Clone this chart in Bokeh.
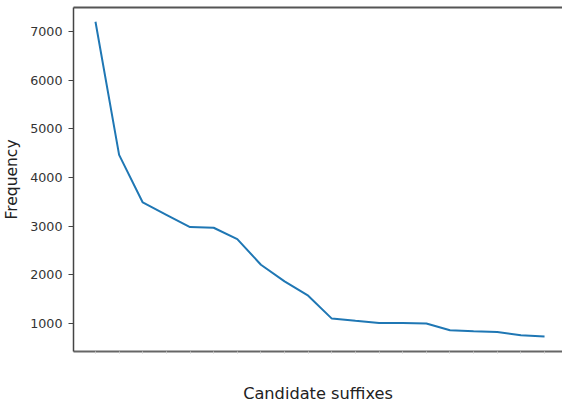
from bokeh.plotting import figure
from bokeh.models import LinearAxis, FixedTicker, Range1d
from bokeh.embed import file_html
from bokeh.resources import INLINE

# Frequency of candidate suffixes (sorted, descending)
ranks = list(range(20))
frequency = [7205, 4466, 3486, 3233, 2979, 2966, 2733, 2205, 1863, 1568,
             1096, 1050, 1007, 1003, 995, 856, 838, 822, 753, 726]
y_ticks = [1000, 2000, 3000, 4000, 5000, 6000, 7000]

FONT = "DejaVu Sans"

p = figure(width=562, height=405, output_backend="svg", toolbar_location=None,
           x_range=Range1d(-0.93, 19.76), y_range=Range1d(419, 7499),
           x_axis_label="Candidate suffixes", y_axis_label="Frequency",
           min_border_left=73, min_border_top=7, min_border_right=0,
           min_border_bottom=53)

p.line(ranks, frequency, line_color="#1f77b4", line_width=2)

p.grid.visible = False
p.outline_line_color = None
p.background_fill_color = "white"

# y axis
ya = p.yaxis[0]
ya.ticker = FixedTicker(ticks=y_ticks)
ya.minor_tick_line_color = None
ya.major_tick_in = 0
ya.major_tick_out = 5
ya.major_tick_line_color = "#444444"
ya.axis_line_color = "#444444"
ya.axis_line_width = 1.5
ya.major_label_text_font = FONT
ya.major_label_text_font_size = "12.7px"
ya.major_label_text_color = "#333333"
ya.major_label_standoff = 6
ya.axis_label_text_font = FONT
ya.axis_label_text_font_size = "15.5px"
ya.axis_label_text_font_style = "normal"
ya.axis_label_text_color = "#222222"
ya.axis_label_standoff = 6

# x axis: ticks at every candidate, no tick labels
xa = p.xaxis[0]
xa.ticker = FixedTicker(ticks=ranks)
xa.minor_tick_line_color = None
xa.major_tick_in = 0
xa.major_tick_out = 2
xa.major_tick_line_color = "#cccccc"
xa.axis_line_color = "#666666"
xa.axis_line_width = 2
xa.major_label_text_color = None
xa.major_label_text_font_size = "1px"
xa.major_label_standoff = 0
xa.axis_label_text_font = FONT
xa.axis_label_text_font_size = "16.2px"
xa.axis_label_text_font_style = "normal"
xa.axis_label_text_color = "#222222"
xa.axis_label_standoff = 30

# top border line
top = LinearAxis(ticker=FixedTicker(ticks=[]), major_label_text_font_size="1px",
                 major_tick_out=0, major_tick_in=0, minor_tick_line_color=None,
                 major_label_standoff=0, axis_line_color="#555555", axis_line_width=2)
p.add_layout(top, "above")

open("out.html", "w").write(file_html(p, INLINE))
